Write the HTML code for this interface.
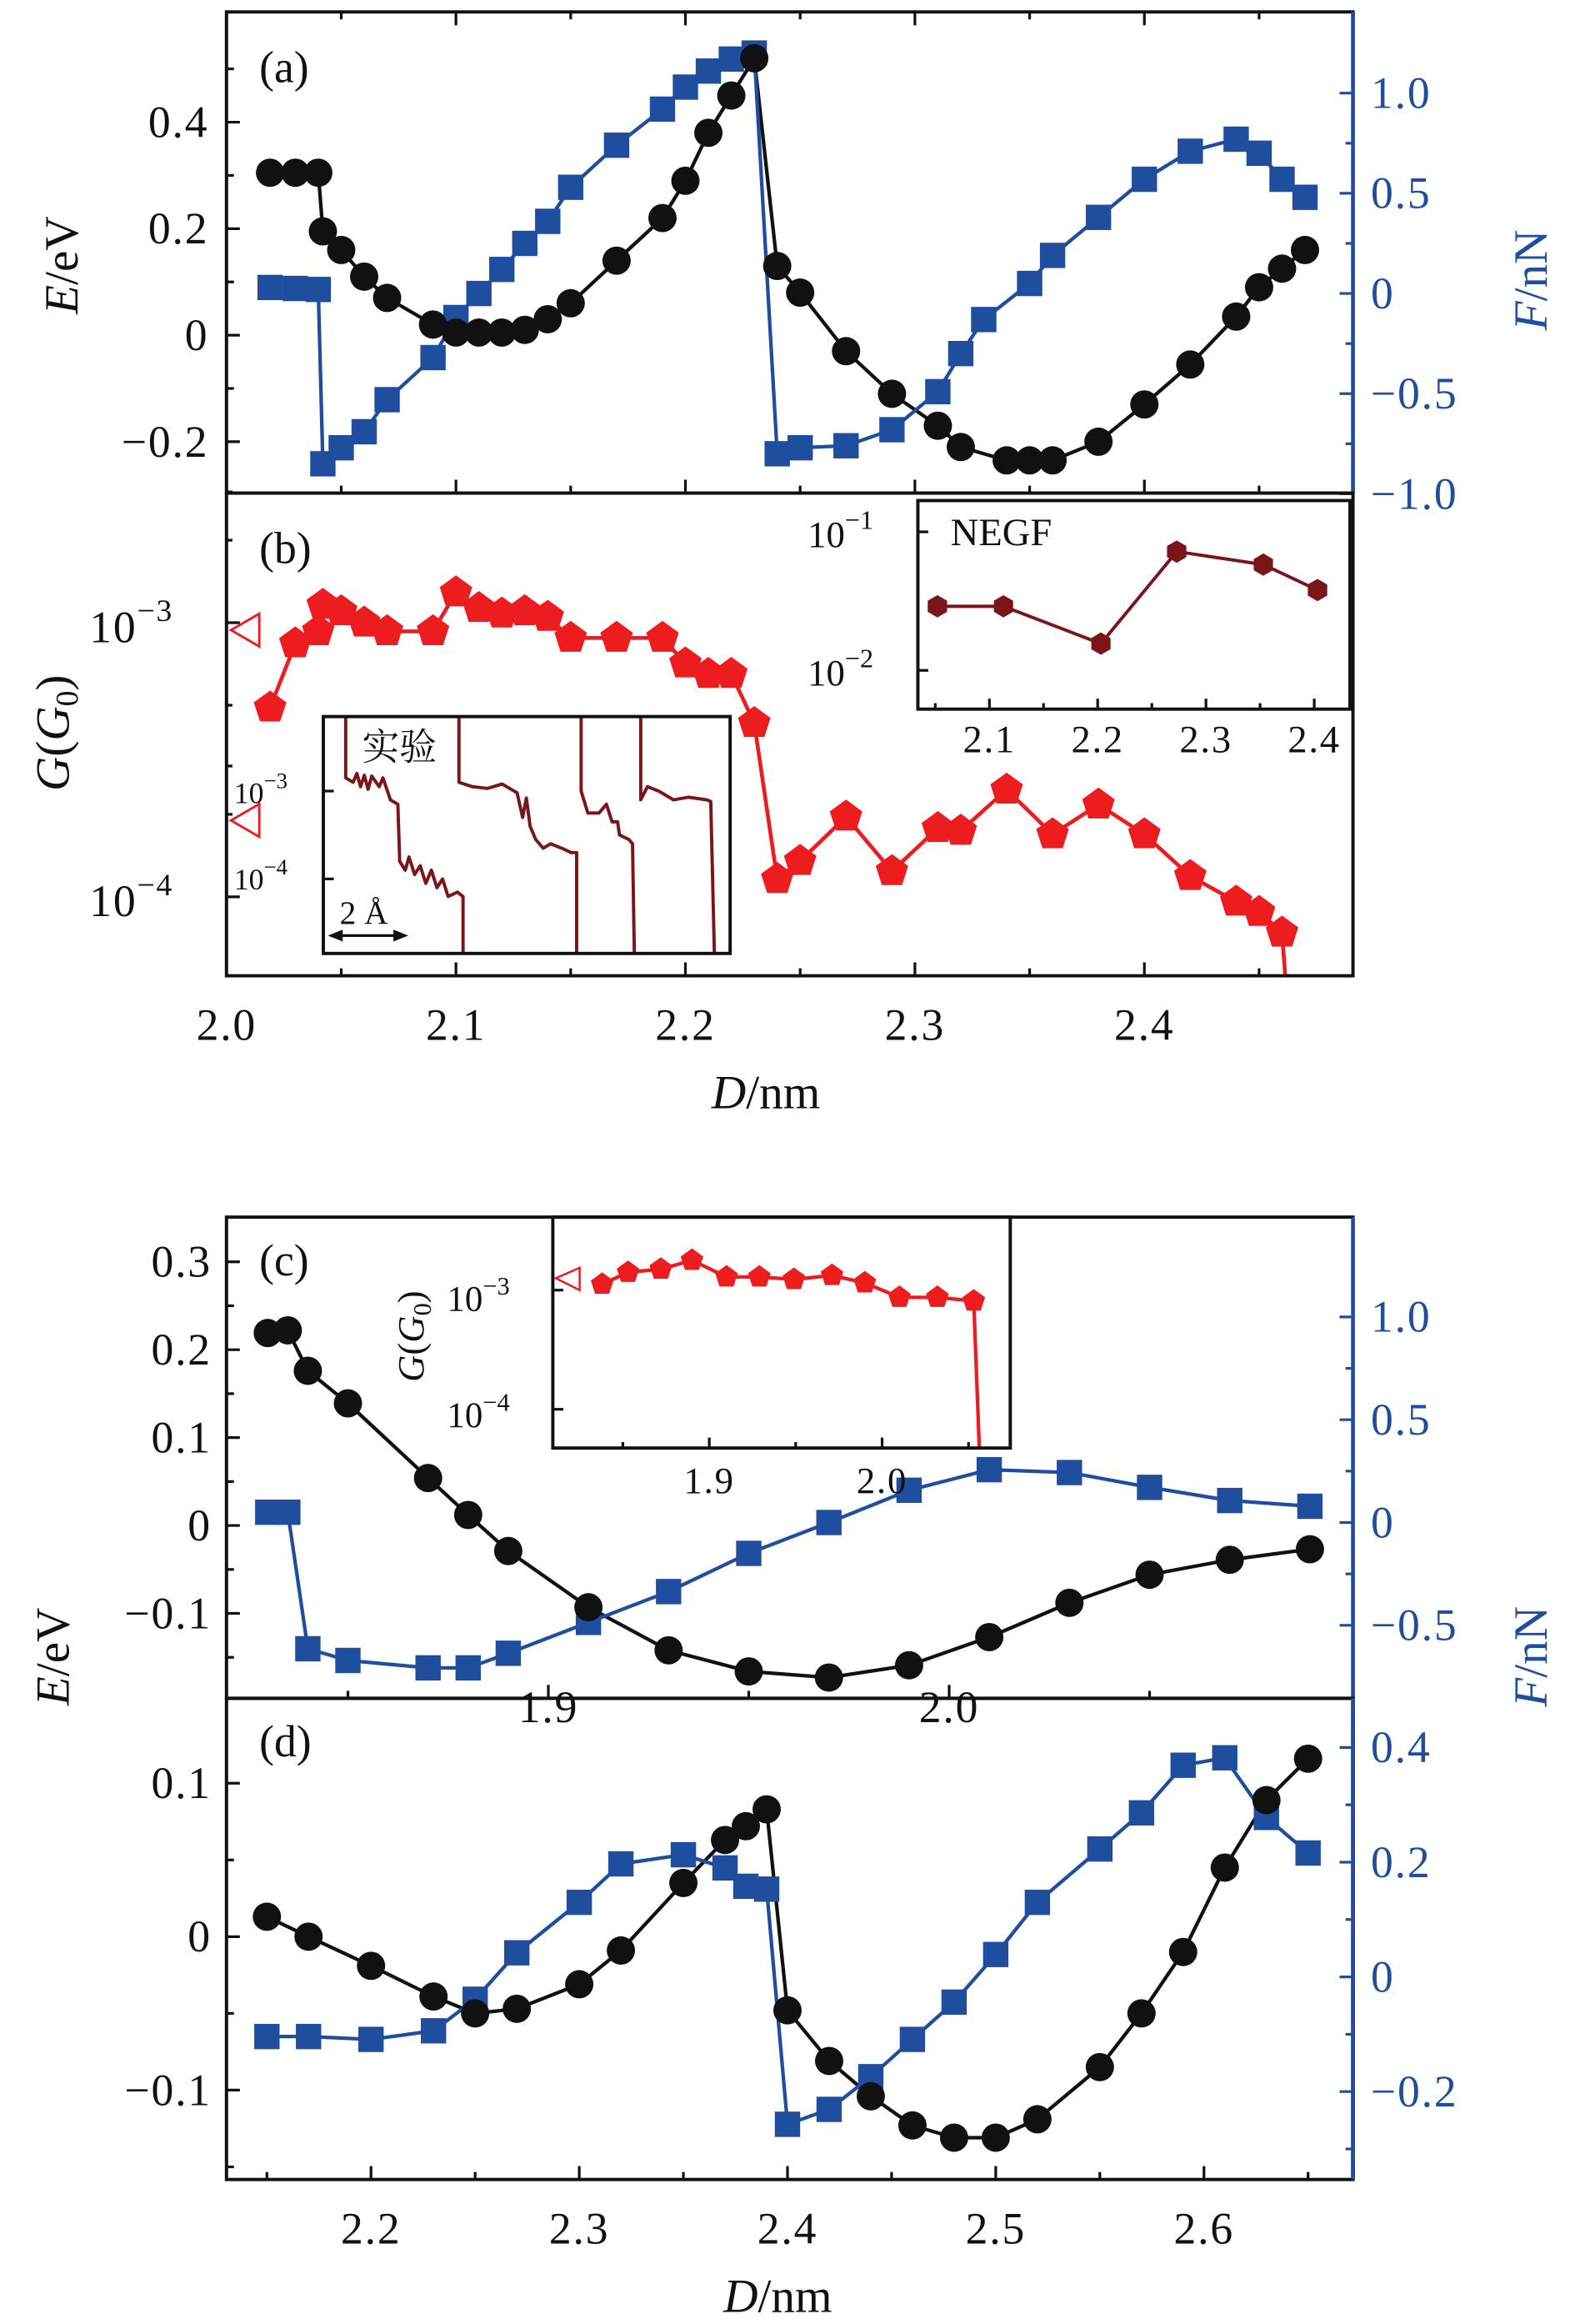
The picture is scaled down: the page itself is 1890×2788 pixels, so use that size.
<!DOCTYPE html>
<html><head><meta charset="utf-8"><style>
html,body{margin:0;padding:0;background:#fff}
svg{display:block}
text{font-family:"Liberation Serif","Noto Serif CJK SC",serif;fill:#111}
</style></head><body>
<svg id="fig" xmlns="http://www.w3.org/2000/svg" width="1890" height="2788" viewBox="0 0 1057 1560" preserveAspectRatio="none"></svg>
<script>
// ---------- data ----------
const aE_D=[2.019,2.03,2.04,2.042,2.05,2.06,2.07,2.09,2.10,2.11,2.12,2.13,2.14,2.15,2.17,2.19,2.20,2.21,2.22,2.23,2.24,2.25,2.27,2.29,2.31,2.32,2.34,2.35,2.36,2.38,2.40,2.42,2.44,2.45,2.46,2.47];
const aE_V=[0.305,0.305,0.305,0.195,0.16,0.11,0.07,0.02,0.005,0.005,0.005,0.01,0.03,0.06,0.14,0.22,0.29,0.38,0.45,0.52,0.13,0.08,-0.03,-0.11,-0.17,-0.21,-0.235,-0.235,-0.235,-0.20,-0.13,-0.055,0.035,0.09,0.125,0.16];
const aF_D=[2.019,2.03,2.04,2.042,2.05,2.06,2.07,2.09,2.10,2.11,2.12,2.13,2.14,2.15,2.17,2.19,2.20,2.21,2.22,2.23,2.24,2.25,2.27,2.29,2.31,2.32,2.33,2.35,2.36,2.38,2.40,2.42,2.44,2.45,2.46,2.47];
const aF_V=[0.03,0.025,0.02,-0.85,-0.77,-0.69,-0.53,-0.32,-0.12,0.0,0.12,0.25,0.36,0.53,0.74,0.92,1.03,1.11,1.17,1.20,-0.80,-0.77,-0.76,-0.68,-0.49,-0.30,-0.13,0.05,0.19,0.38,0.57,0.71,0.77,0.70,0.57,0.48];
const bD=[2.019,2.03,2.04,2.042,2.05,2.06,2.07,2.09,2.10,2.11,2.12,2.13,2.14,2.15,2.17,2.19,2.20,2.21,2.22,2.23,2.24,2.25,2.27,2.29,2.31,2.32,2.34,2.36,2.38,2.40,2.42,2.44,2.45,2.46];
const bG=[4.9e-4,8.4e-4,9.3e-4,1.16e-3,1.10e-3,1.0e-3,9.3e-4,9.3e-4,1.29e-3,1.13e-3,1.08e-3,1.10e-3,1.05e-3,8.8e-4,8.8e-4,8.8e-4,7.1e-4,6.5e-4,6.5e-4,4.3e-4,1.16e-4,1.35e-4,1.96e-4,1.24e-4,1.78e-4,1.74e-4,2.46e-4,1.69e-4,2.17e-4,1.69e-4,1.19e-4,9.6e-5,8.8e-5,7.4e-5];
const bTail=[2.465,2.0e-5];
const bRef=[9.4e-4,1.9e-4];
const nD=[2.052,2.113,2.203,2.273,2.353,2.403];
const nG=[2.9e-2,2.9e-2,1.56e-2,7.2e-2,5.8e-2,3.8e-2];
const tr1=[[0.6,-2.1],[0.6,-2.85],[0.8,-2.9],[0.9,-2.8],[1.0,-2.95],[1.1,-2.82],[1.2,-2.98],[1.3,-2.83],[1.5,-2.95],[1.6,-2.85],[1.8,-3.1],[2.0,-3.15],[2.05,-3.8],[2.2,-3.9],[2.3,-3.75],[2.45,-3.95],[2.6,-3.85],[2.75,-4.05],[2.9,-3.9],[3.05,-4.1],[3.2,-4.0],[3.35,-4.2],[3.6,-4.15],[3.75,-4.2],[3.75,-4.9]];
const tr2=[[3.64,-2.1],[3.64,-2.9],[4.0,-2.95],[4.4,-2.97],[4.8,-2.92],[5.2,-3.02],[5.35,-3.3],[5.45,-3.08],[5.55,-3.4],[5.7,-3.55],[5.9,-3.65],[6.1,-3.6],[6.4,-3.65],[6.65,-3.7],[6.8,-3.7],[6.8,-4.9]];
const tr3=[[6.92,-2.1],[6.92,-3.0],[7.1,-3.25],[7.4,-3.25],[7.6,-3.15],[7.75,-3.35],[7.9,-3.35],[7.95,-3.5],[8.2,-3.55],[8.3,-3.6],[8.35,-4.9]];
const tr4=[[8.52,-2.1],[8.52,-3.1],[8.7,-2.95],[9.0,-3.0],[9.4,-3.1],[9.8,-3.07],[10.3,-3.1],[10.4,-3.12],[10.5,-4.9]];
const cD=[1.83,1.835,1.84,1.85,1.87,1.88,1.89,1.91,1.93,1.95,1.97,1.99,2.01,2.03,2.05,2.07,2.09];
const cE=[0.219,0.222,0.176,0.139,0.054,0.012,-0.029,-0.093,-0.142,-0.166,-0.173,-0.159,-0.127,-0.088,-0.056,-0.039,-0.027];
const cF=[0.05,0.05,-0.614,-0.671,-0.707,-0.707,-0.636,-0.486,-0.336,-0.15,0.0,0.157,0.257,0.243,0.171,0.107,0.079];
const ciD=[1.838,1.853,1.872,1.89,1.91,1.929,1.949,1.971,1.99,2.01,2.032,2.053];
const ciG=[1.12e-3,1.41e-3,1.5e-3,1.78e-3,1.29e-3,1.29e-3,1.23e-3,1.33e-3,1.15e-3,8.7e-4,8.7e-4,8.1e-4];
const ciTail=[2.058,1.0e-5];
const dD=[2.15,2.17,2.20,2.23,2.25,2.27,2.30,2.32,2.35,2.37,2.38,2.39,2.40,2.42,2.44,2.46,2.48,2.50,2.52,2.55,2.57,2.59,2.61,2.63,2.65];
const dE=[0.013,0,-0.019,-0.039,-0.05,-0.047,-0.031,-0.009,0.035,0.063,0.072,0.083,-0.048,-0.081,-0.104,-0.123,-0.131,-0.131,-0.119,-0.085,-0.05,-0.01,0.045,0.089,0.116];
const dF=[-0.104,-0.104,-0.109,-0.094,-0.039,0.042,0.13,0.197,0.213,0.19,0.158,0.153,-0.257,-0.231,-0.174,-0.109,-0.044,0.039,0.13,0.223,0.286,0.369,0.382,0.278,0.216];

const BLUE="#1f4e9e", RED="#ec1c1f", DRED="#7a1519";
const svg=document.getElementById('fig');
const NS="http://www.w3.org/2000/svg";
function mk(tag,at,parent){const e=document.createElementNS(NS,tag);for(const k in at)e.setAttribute(k,at[k]);(parent||svg).appendChild(e);return e;}
function lin(d0,d1,p0,p1){return v=>p0+(v-d0)*(p1-p0)/(d1-d0);}
function logs(p3,dec,base){return v=>p3-(Math.log10(v)-base)*dec;}
let clipN=0;
function clip(x,y,w,h){const id='c'+(clipN++);const cp=mk('clipPath',{id:id});mk('rect',{x:x,y:y,width:w,height:h},cp);return 'url(#'+id+')';}
function txt(x,y,s,at,parent){const t=mk('text',Object.assign({x:x,y:y},at||{}),parent);t.innerHTML=s;return t;}
function poly(xs,ys,col,w,g){return mk('polyline',{points:xs.map((x,i)=>x+','+ys[i]).join(' '),fill:'none',stroke:col,'stroke-width':w,'stroke-linejoin':'round'},g);}
function pent(cx,cy,r,col,g){let p=[];for(let i=0;i<5;i++){const a=-Math.PI/2+i*2*Math.PI/5;p.push((cx+r*Math.cos(a)).toFixed(1)+','+(cy+r*Math.sin(a)).toFixed(1));}return mk('polygon',{points:p.join(' '),fill:col},g);}
function hexa(cx,cy,r,col,g){let p=[];for(let i=0;i<6;i++){const a=-Math.PI/2+i*Math.PI/3;p.push((cx+r*Math.cos(a)).toFixed(1)+','+(cy+r*Math.sin(a)).toFixed(1));}return mk('polygon',{points:p.join(' '),fill:col},g);}
function frame(x,y,w,h,name){const r=mk('rect',{x:x,y:y,width:w,height:h,fill:'none',stroke:'#111','stroke-width':2.2});return r;}
function tickX(sc,vals,y,dir,len,col){vals.forEach(v=>{const x=sc(v);mk('line',{x1:x,y1:y,x2:x,y2:y+dir*len,stroke:col||'#111','stroke-width':1.8});});}
function tickY(sc,vals,x,dir,len,col){vals.forEach(v=>{const y=sc(v);mk('line',{x1:x,y1:y,x2:x+dir*len,y2:y,stroke:col||'#111','stroke-width':1.8});});}
function fmt(v){return (v<0?'\u2212':'')+Math.abs(v).toString();}
const FS=30, LS='letter-spacing:1px';

// ================= Panel (a) =================
const xa=lin(2.0,2.4,152,768), yaE=lin(0,0.4,225,82), yaF=lin(0,1,197,62.5);
const gA=mk('g',{'clip-path':clip(152,8,756,323)});


const aEx=aE_D.map(xa), aEy=aE_V.map(yaE), aFx=aF_D.map(xa), aFy=aF_V.map(yaF);
const lAE=poly(aEx,aEy,'#111',2.4,gA);


const lAF=poly(aFx,aFy,BLUE,2.4,gA);


aFx.forEach((x,i)=>{const r=mk('rect',{x:x-8.5,y:aFy[i]-8.5,width:17,height:17,fill:BLUE},gA);

});
aEx.forEach((x,i)=>{const c=mk('circle',{cx:x,cy:aEy[i],r:9.5,fill:'#111'},gA);

});
frame(152,8,756,323,'panel-a-frame');
mk('line',{x1:908,y1:8,x2:908,y2:331,stroke:BLUE,'stroke-width':2.6});
tickY(yaE,[-0.2,0,0.2,0.4],152,1,9);tickY(yaE,[-0.1,0.1,0.3,0.5],152,1,5);
tickY(yaF,[-1,-0.5,0,0.5,1],908,-1,9,BLUE);tickY(yaF,[-0.75,-0.25,0.25,0.75],908,-1,5,BLUE);
tickX(xa,[2.1,2.2,2.3,2.4],8,1,9);tickX(xa,[2.05,2.15,2.25,2.35,2.45],8,1,5);
tickX(xa,[2.1,2.2,2.3,2.4],331,-1,9);tickX(xa,[2.05,2.15,2.25,2.35,2.45],331,-1,5);
[-0.2,0,0.2,0.4].forEach(v=>{const t=txt(140,yaE(v)+10,fmt(v),{'text-anchor':'end','font-size':FS,style:LS});

});
[-1.0,-0.5,0,0.5,1.0].forEach(v=>{const s=v===0?'0':(v<0?'\u2212':'')+Math.abs(v).toFixed(1);const t=txt(920,yaF(v)+10,s,{'font-size':FS,style:'fill:'+BLUE+';'+LS});

});
let t;
t=txt(174,55,'(a)',{'font-size':30});
t=txt(0,0,'<tspan font-style="italic">E</tspan>/eV',{'font-size':32,transform:'translate(52,178) rotate(-90)','text-anchor':'middle'});

t=txt(0,0,'<tspan font-style="italic">F</tspan>/nN',{'font-size':32,transform:'translate(1038,188) rotate(-90)','text-anchor':'middle',style:'fill:'+BLUE});


// ================= Panel (b) =================
const yb=logs(418,184,-3);
const gB=mk('g',{'clip-path':clip(152,331,756,324)});


const bx=bD.map(xa), by=bG.map(yb);
const lB=poly(bx.concat([xa(bTail[0])]),by.concat([yb(bTail[1])]),RED,2.6,gB);


bx.forEach((x,i)=>{const p=pent(x,by[i],11.5,RED,gB);

});
bRef.forEach(v=>{const y=yb(v);const p=mk('polygon',{points:`155,${y} 174,${y-11} 174,${y+11}`,fill:'none',stroke:RED,'stroke-width':1.6});

});
frame(152,331,756,324,'panel-b-frame');
tickY(yb,[1e-3,1e-4],152,1,9);tickY(yb,[2e-4,3e-4,5e-4,2e-3,3e-3],152,1,4);
tickX(xa,[2.1,2.2,2.3,2.4],655,-1,9);tickX(xa,[2.05,2.15,2.25,2.35,2.45],655,-1,5);
[[1e-3,'\u22123'],[1e-4,'\u22124']].forEach(([v,e])=>{const t=txt(60,yb(v)+13,'10<tspan dy="-14" font-size="21">'+e+'</tspan>',{'font-size':FS,style:LS});
});
t=txt(174,378,'(b)',{'font-size':30});
t=txt(0,0,'<tspan font-style="italic">G</tspan>(<tspan font-style="italic">G</tspan><tspan font-size="21" dy="6">0</tspan><tspan dy="-6">)</tspan>',{'font-size':32,transform:'translate(46,492) rotate(-90)','text-anchor':'middle'});

[2.0,2.1,2.2,2.3,2.4].forEach(v=>{const t=txt(xa(v),698,v.toFixed(1),{'text-anchor':'middle','font-size':FS,style:LS});
});
t=txt(514,744,'<tspan font-style="italic">D</tspan>/nm',{'text-anchor':'middle','font-size':32});


// NEGF inset
mk('rect',{x:616,y:336,width:290,height:140,fill:'#fff'});
const xn=lin(2.1,2.4,664,882), yn=logs(357,93,-1);
const nx=nD.map(xn), ny=nG.map(yn);
const lN=poly(nx,ny,DRED,2.2);


nx.forEach((x,i)=>{const h=hexa(x,ny[i],7.5,DRED);

});
frame(616,336,290,140,'negf-inset-frame');
tickY(yn,[0.1,0.01],616,1,7);tickX(xn,[2.1,2.2,2.3,2.4],476,-1,7);tickX(xn,[2.05,2.15,2.25,2.35],476,-1,4);
[[0.1,357,'\u22121'],[0.01,450,'\u22122']].forEach(([v,y,e])=>{const t=txt(542,y+10,'10<tspan dy="-12" font-size="18">'+e+'</tspan>',{'font-size':25});
});
[2.1,2.2,2.3,2.4].forEach(v=>{const t=txt(xn(v),505,v.toFixed(1),{'text-anchor':'middle','font-size':26,style:LS});
});
t=txt(638,366,'NEGF',{'font-size':26});

// Experimental inset
mk('rect',{x:217,y:481,width:273,height:159,fill:'#fff'});
const xe=lin(0,1,217,242), ye=v=>531-(v+3)*59;
const gE=mk('g',{'clip-path':clip(217,481,273,159)});
[tr1,tr2,tr3,tr4].forEach(tr=>{const l=poly(tr.map(p=>xe(p[0])),tr.map(p=>ye(p[1])),DRED,2.2,gE);

});
frame(217,481,273,159,'experiment-inset-frame');
tickY(ye,[-3,-4],217,1,7);
t=txt(157,539,'10<tspan dy="-10" font-size="15">\u22123</tspan>',{'font-size':20});
t=txt(157,597,'10<tspan dy="-10" font-size="15">\u22124</tspan>',{'font-size':20});
t=txt(243,510,'实验',{'font-size':25});
t=txt(228,620,'2 Å',{'font-size':22});
const sb=mk('g',{});


mk('line',{x1:226,y1:628,x2:268,y2:628,stroke:'#111','stroke-width':1.8},sb);
mk('polygon',{points:'220,628 230,624 230,632',fill:'#111'},sb);
mk('polygon',{points:'274,628 264,624 264,632',fill:'#111'},sb);

// ================= Panel (c) =================
const xc=lin(1.9,2.0,368,637), ycE=lin(0,0.1,1024,965), ycF=lin(0,1,1022,884);
const gC=mk('g',{'clip-path':clip(152,817,756,323)});


const cx=cD.map(xc), cyE=cE.map(ycE), cyF=cF.map(ycF);
const lCE=poly(cx,cyE,'#111',2.4,gC);
const lCF=poly(cx,cyF,BLUE,2.4,gC);
cx.forEach((x,i)=>{const r=mk('rect',{x:x-8.5,y:cyF[i]-8.5,width:17,height:17,fill:BLUE},gC);
});
cx.forEach((x,i)=>{const c=mk('circle',{cx:x,cy:cyE[i],r:9.5,fill:'#111'},gC);
});
mk('rect',{x:371,y:817,width:307,height:155,fill:'#fff'});
const xci=lin(1.9,2.0,476,592), yci=logs(866,80,-3);
const gCI=mk('g',{'clip-path':clip(371,817,307,155)});
const cix=ciD.map(xci), ciy=ciG.map(yci);
const lCI=poly(cix.concat([xci(ciTail[0])]),ciy.concat([yci(ciTail[1])]),RED,2.4,gCI);

cix.forEach((x,i)=>{const p=pent(x,ciy[i],8,RED,gCI);
});
t=mk('polygon',{points:'373,858 389,851 389,866',fill:'none',stroke:RED,'stroke-width':1.4});

frame(371,817,307,155,'conductance-inset-c-frame');
tickY(yci,[1e-3,1e-4],371,1,7);tickX(xci,[1.9,2.0],972,-1,7);tickX(xci,[1.85,1.95,2.05],972,-1,4);
t=txt(300,880,'10<tspan dy="-11" font-size="17">\u22123</tspan>',{'font-size':24});
t=txt(300,958,'10<tspan dy="-11" font-size="17">\u22124</tspan>',{'font-size':24});
[1.9,2.0].forEach(v=>{const t=txt(xci(v),1002,v.toFixed(1),{'text-anchor':'middle','font-size':25,style:LS});
});
t=txt(0,0,'<tspan font-style="italic">G</tspan>(<tspan font-style="italic">G</tspan><tspan font-size="17" dy="5">0</tspan><tspan dy="-5">)</tspan>',{'font-size':25,transform:'translate(284,897) rotate(-90)','text-anchor':'middle'});


frame(152,817,756,323,'panel-c-frame');
mk('line',{x1:908,y1:817,x2:908,y2:1463,stroke:BLUE,'stroke-width':2.6});
tickY(ycE,[-0.1,0,0.1,0.2,0.3],152,1,9);tickY(ycE,[-0.15,-0.05,0.05,0.15,0.25],152,1,5);
tickY(ycF,[-0.5,0,0.5,1.0],908,-1,9,BLUE);tickY(ycF,[-0.25,0.25,0.75],908,-1,5,BLUE);
tickX(xc,[1.9,2.0],1140,-1,9);tickX(xc,[1.85,1.95,2.05],1140,-1,5);
[-0.1,0,0.1,0.2,0.3].forEach(v=>{const t=txt(142,ycE(v)+10,fmt(v),{'text-anchor':'end','font-size':FS,style:LS});
});
[-0.5,0,0.5,1.0].forEach(v=>{const s=v===0?'0':(v<0?'\u2212':'')+Math.abs(v).toFixed(1);const t=txt(920,ycF(v)+10,s,{'font-size':FS,style:'fill:'+BLUE+';'+LS});
});
[1.9,2.0].forEach(v=>{const t=txt(xc(v),1156,v.toFixed(1),{'text-anchor':'middle','font-size':FS,style:LS});
});
t=txt(174,856,'(c)',{'font-size':30});

// ================= Panel (d) =================
const xd=lin(2.2,2.6,249,808), ydE=lin(0,0.1,1300,1197), ydF=lin(0,0.4,1327,1173);
const gD=mk('g',{'clip-path':clip(152,1140,756,323)});

const dx=dD.map(xd), dyE=dE.map(ydE), dyF=dF.map(ydF);
const lDE=poly(dx,dyE,'#111',2.4,gD);
const lDF=poly(dx,dyF,BLUE,2.4,gD);
dx.forEach((x,i)=>{const r=mk('rect',{x:x-8.5,y:dyF[i]-8.5,width:17,height:17,fill:BLUE},gD);
});
dx.forEach((x,i)=>{const c=mk('circle',{cx:x,cy:dyE[i],r:9.5,fill:'#111'},gD);
});
frame(152,1140,756,323,'panel-d-frame');
mk('line',{x1:908,y1:1140,x2:908,y2:1463,stroke:BLUE,'stroke-width':2.6});
tickY(ydE,[-0.1,0,0.1],152,1,9);tickY(ydE,[-0.05,0.05,-0.15],152,1,5);
tickY(ydF,[-0.2,0,0.2,0.4],908,-1,9,BLUE);tickY(ydF,[-0.3,-0.1,0.1,0.3],908,-1,5,BLUE);
tickX(xd,[2.2,2.3,2.4,2.5,2.6],1463,-1,9);tickX(xd,[2.15,2.25,2.35,2.45,2.55,2.65],1463,-1,5);
[-0.1,0,0.1].forEach(v=>{const t=txt(142,ydE(v)+10,fmt(v),{'text-anchor':'end','font-size':FS,style:LS});
});
[-0.2,0,0.2,0.4].forEach(v=>{const s=v===0?'0':(v<0?'\u2212':'')+Math.abs(v).toFixed(1);const t=txt(920,ydF(v)+10,s,{'font-size':FS,style:'fill:'+BLUE+';'+LS});
});
[2.2,2.3,2.4,2.5,2.6].forEach(v=>{const t=txt(xd(v),1506,v.toFixed(1),{'text-anchor':'middle','font-size':FS,style:LS});
});
t=txt(174,1179,'(d)',{'font-size':30});
t=txt(522,1552,'<tspan font-style="italic">D</tspan>/nm',{'text-anchor':'middle','font-size':32});

t=txt(0,0,'<tspan font-style="italic">E</tspan>/eV',{'font-size':32,transform:'translate(46,1112) rotate(-90)','text-anchor':'middle'});

t=txt(0,0,'<tspan font-style="italic">F</tspan>/nN',{'font-size':32,transform:'translate(1038,1112) rotate(-90)','text-anchor':'middle',style:'fill:'+BLUE});

</script>
</body></html>
